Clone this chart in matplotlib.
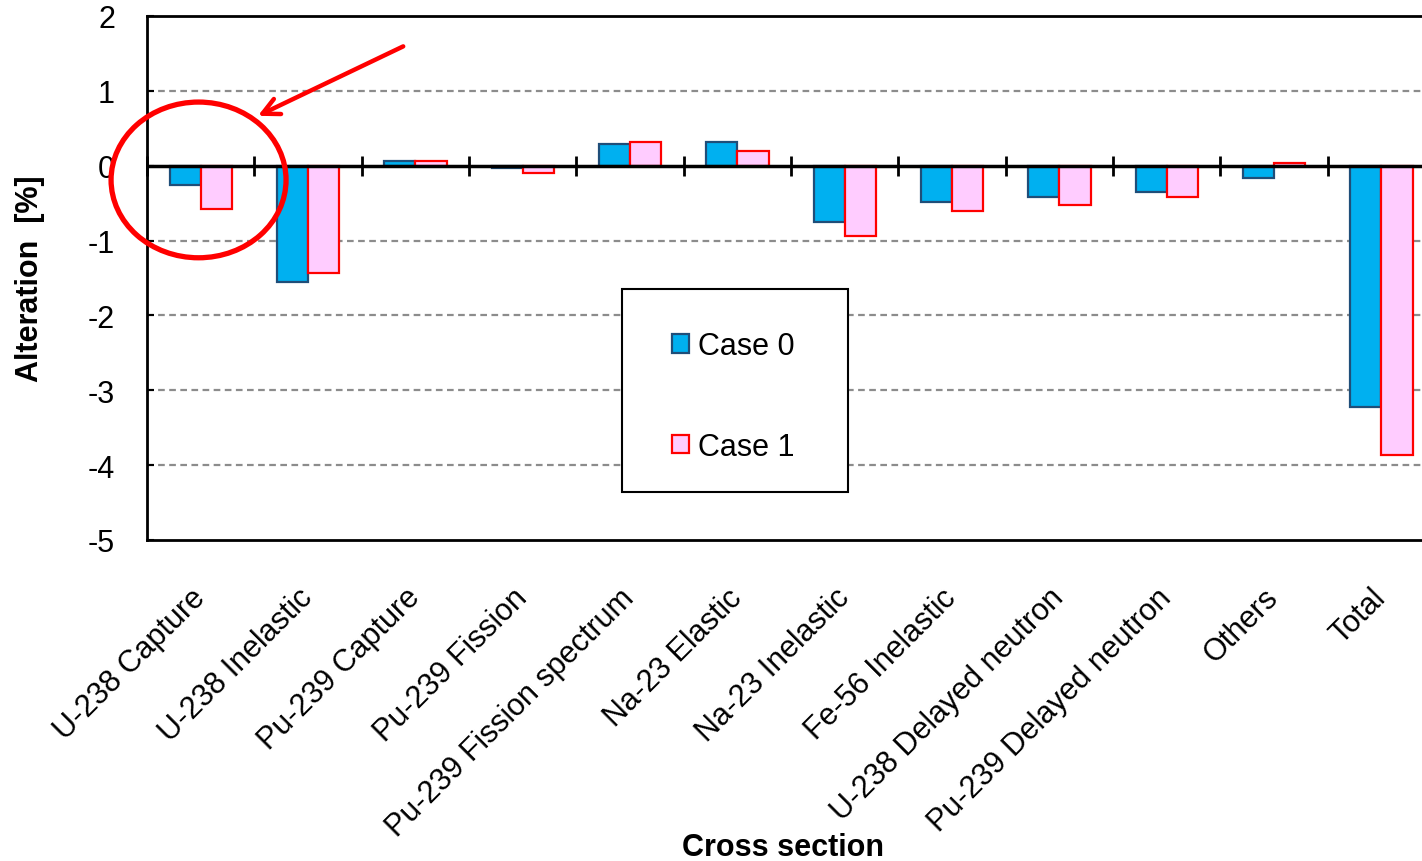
import numpy as np
import matplotlib.pyplot as plt
from matplotlib.patches import Ellipse, Rectangle

plt.rcParams['font.family'] = ['Liberation Sans', 'DejaVu Sans']

######################################################################################################################
# DATI

categorie = ['U-238 Capture', 'U-238 Inelastic', 'Pu-239 Capture', 'Pu-239 Fission',
             'Pu-239 Fission spectrum', 'Na-23 Elastic', 'Na-23 Inelastic', 'Fe-56 Inelastic',
             'U-238 Delayed neutron', 'Pu-239 Delayed neutron', 'Others', 'Total']
case0 = [-0.26, -1.55, 0.06, -0.03, 0.29, 0.32, -0.75, -0.48, -0.42, -0.35, -0.17, -3.23]
case1 = [-0.58, -1.43, 0.06, -0.10, 0.32, 0.19, -0.94, -0.61, -0.52, -0.42, 0.03, -3.87]
y_ticks = [2, 1, 0, -1, -2, -3, -4, -5]

FONT = 22

######################################################################################################################
# GRAFICO

fig = plt.figure(figsize=(14.22, 8.62), dpi=100)
ax = fig.add_axes([0.1034, 0.3724, 0.9058, 0.6079])

x = np.arange(len(categorie))
larghezza = 0.29

# Griglia tratteggiata
for y in y_ticks:
    if y not in (0, 2, -5):
        ax.axhline(y, color='#8c8c8c', linestyle=(0, (3, 2)), linewidth=1.6, zorder=0)

ax.bar(x - larghezza / 2, case0, larghezza, color='#00B0F0', edgecolor='#1F4E79',
       linewidth=1.6, label='Case 0', zorder=2)
ax.bar(x + larghezza / 2, case1, larghezza, color='#FFCCFF', edgecolor='#FF0000',
       linewidth=1.6, label='Case 1', zorder=2)

# Asse delle categorie sullo zero
ax.axhline(0, color='black', linewidth=2.5, zorder=3)
ax.plot(np.arange(len(categorie) + 1) - 0.5, np.zeros(len(categorie) + 1), linestyle='none',
        marker='|', markersize=15, markeredgewidth=2, color='black', zorder=3, clip_on=False)

ax.set_xlim(-0.5, len(categorie) - 0.5)
ax.set_ylim(-5, 2)
ax.set_yticks(y_ticks)
ax.set_yticklabels([str(v) for v in y_ticks], fontsize=FONT)
ax.tick_params(axis='y', direction='in', length=5, width=1.5, pad=23)
ax.set_xticks(x)
ax.set_xticklabels(categorie, rotation=45, ha='right', va='center', rotation_mode='anchor',
                   fontsize=FONT)
ax.tick_params(axis='x', length=0, pad=38)

for lato in ['left', 'top', 'bottom']:
    ax.spines[lato].set_linewidth(2)
ax.spines['right'].set_visible(False)

ax.set_ylabel('Alteration  [%]', fontsize=FONT, fontweight='bold')
ax.yaxis.set_label_coords(-0.079, 0.5)
ax.set_xlabel('Cross section', fontsize=FONT, fontweight='bold')
ax.xaxis.set_label_coords(0.494, -0.557)

# Legenda con riquadro
ax.add_patch(Rectangle((0.3688, 0.0916), 0.1755, 0.3874, transform=ax.transAxes, fill=True,
                       facecolor='white', edgecolor='black', linewidth=1.5, zorder=4))
leg = ax.legend(loc='center', bbox_to_anchor=(0.4555, 0.2738), fontsize=FONT, frameon=False,
                labelspacing=2.3, handlelength=0.55, handleheight=0.55, handletextpad=0.3)
leg.set_zorder(5)

# Evidenziazione in rosso
ax.add_patch(Ellipse((-0.02, -0.19), 1.63, 2.08, fill=False, edgecolor='red', linewidth=3.8,
                     clip_on=False, zorder=5))
ax.annotate('', xy=(0.51, 0.65), xytext=(1.91, 1.61),
            arrowprops=dict(arrowstyle='->', color='red', lw=3.2, mutation_scale=30), zorder=5)

plt.savefig('out.png', dpi=100)
